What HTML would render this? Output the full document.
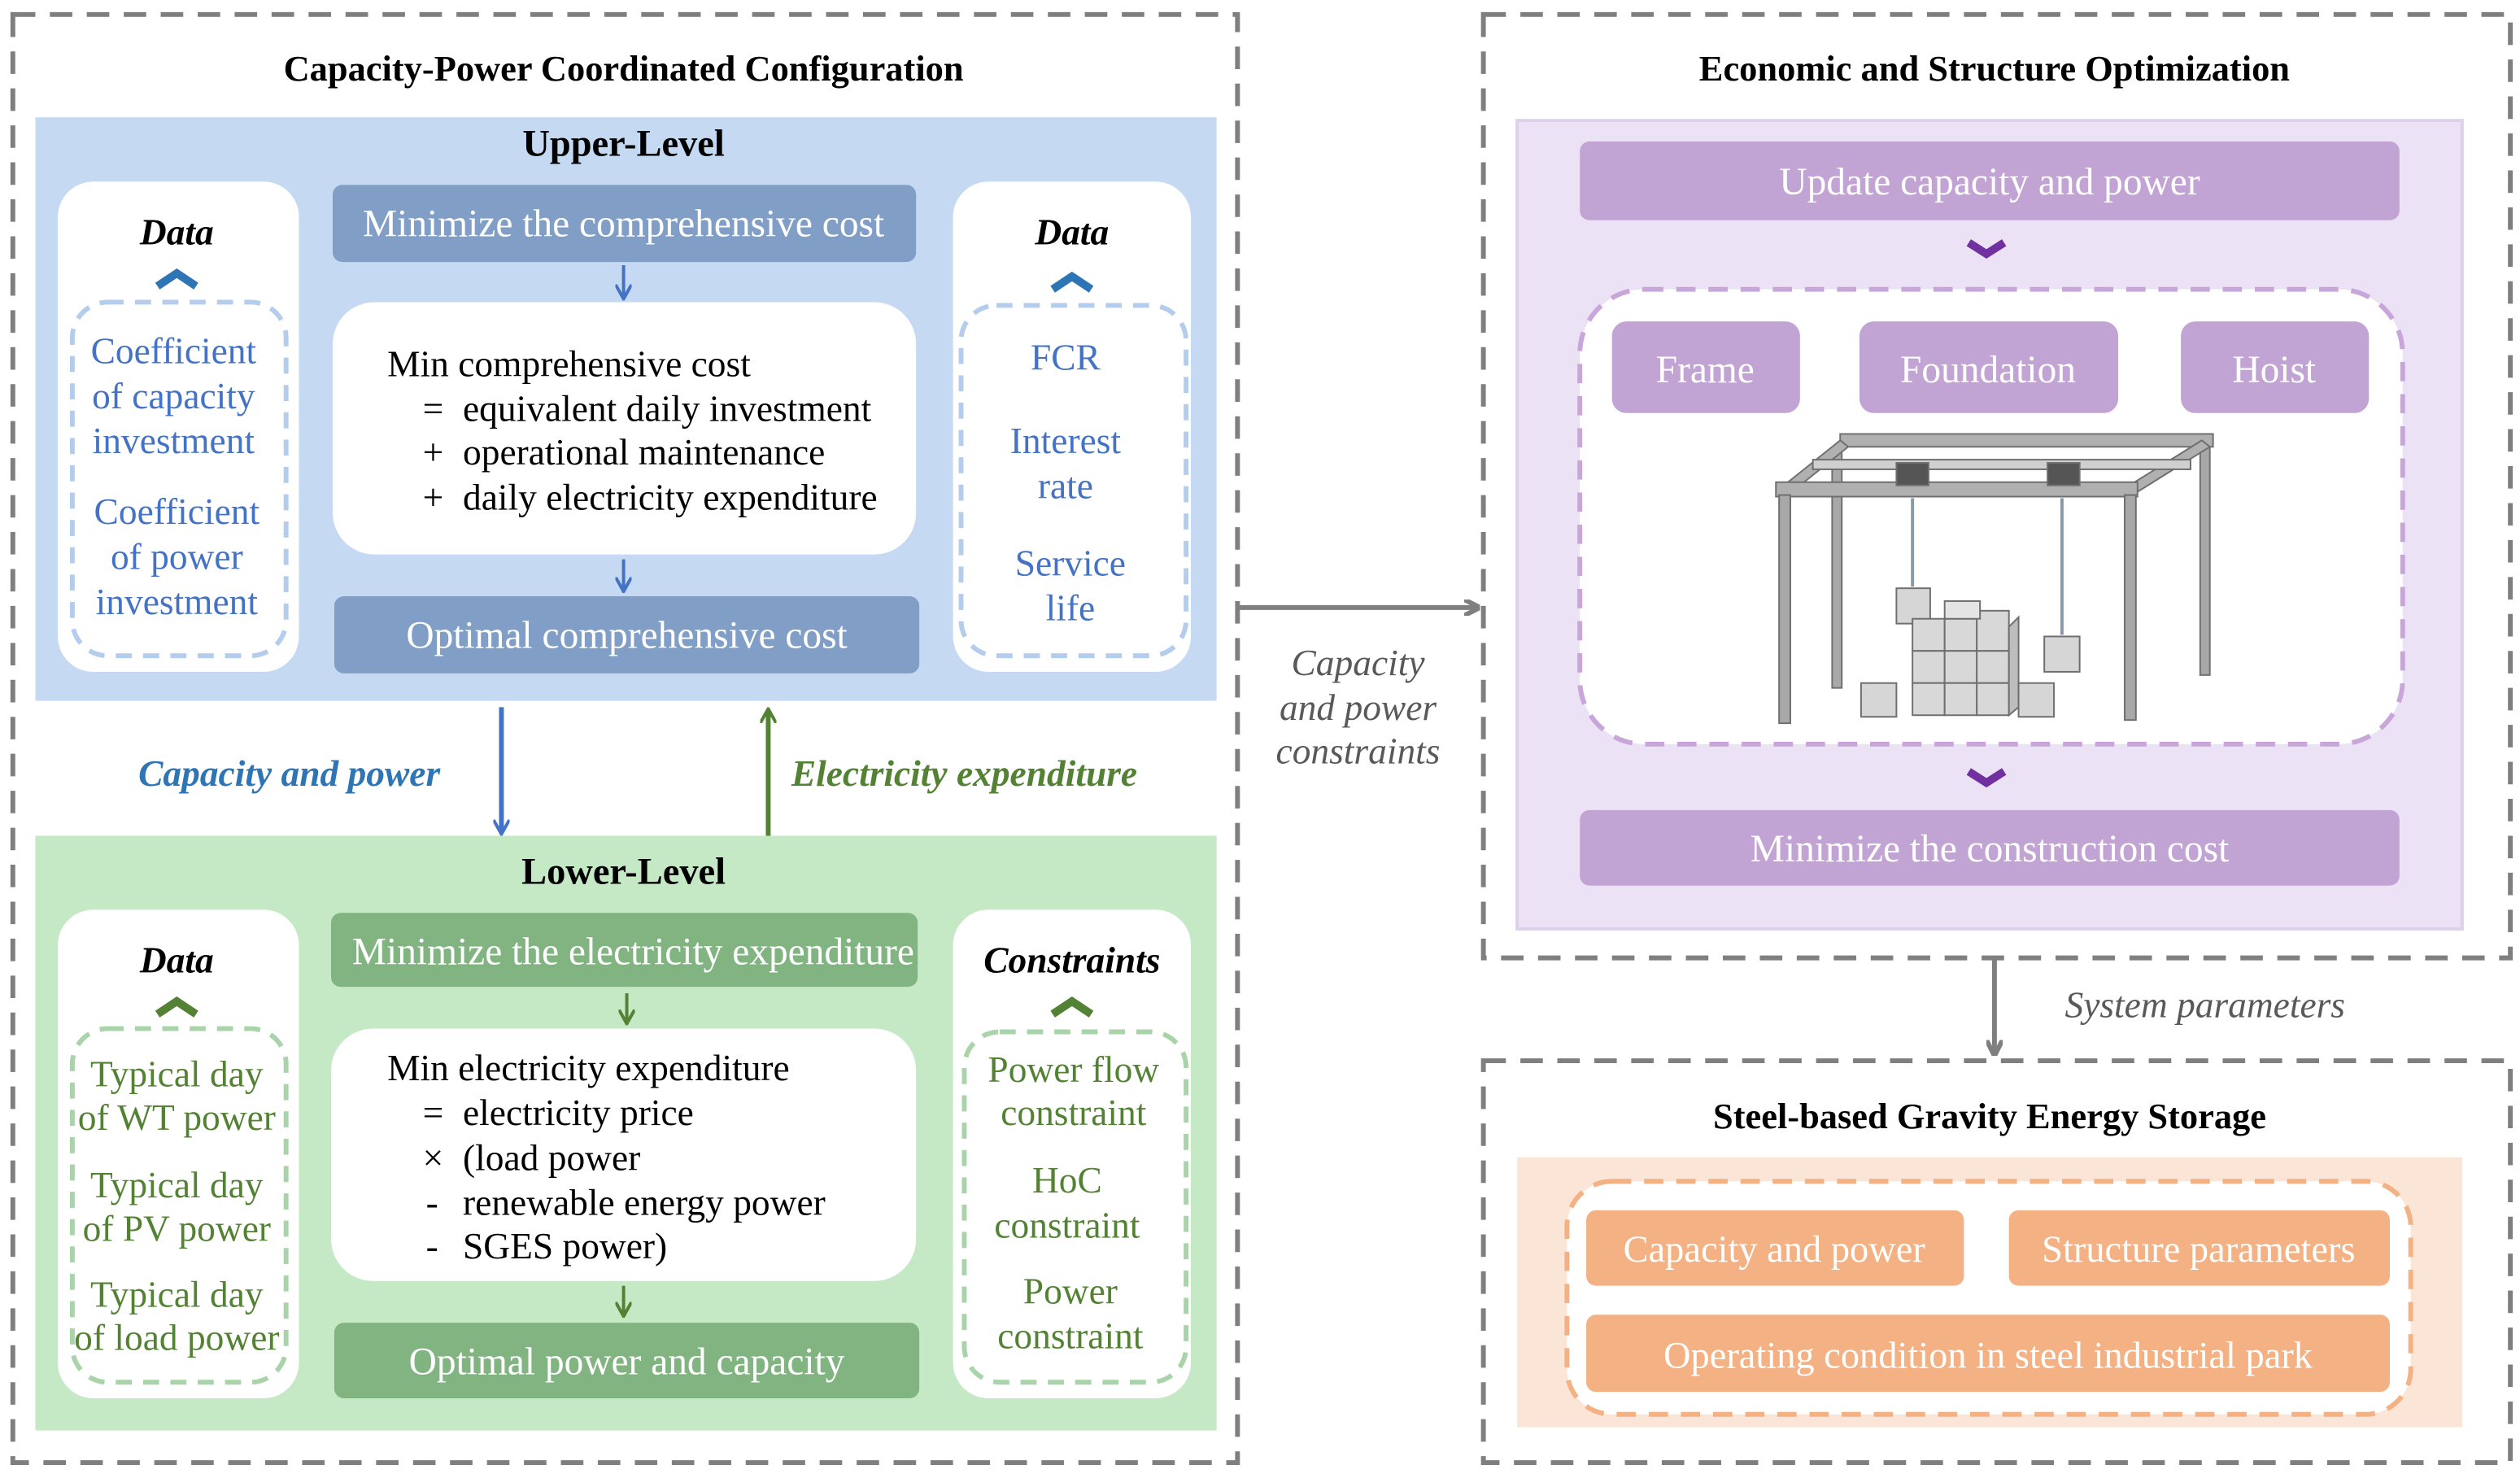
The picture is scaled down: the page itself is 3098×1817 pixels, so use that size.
<!DOCTYPE html>
<html><head><meta charset="utf-8"><style>
html,body{margin:0;padding:0;background:#fff}
svg{display:block}
text{font-family:"Liberation Serif",serif}
</style></head><body>
<svg width="3098" height="1817" viewBox="0 0 1568 919.6" preserveAspectRatio="none" xmlns="http://www.w3.org/2000/svg">
<defs>
<marker id="ag" markerWidth="10" markerHeight="10" refX="9" refY="5" orient="auto" markerUnits="userSpaceOnUse"><path d="M0,0 L10,5 L0,10" fill="none" stroke="#7f7f7f" stroke-width="3"/></marker>
<marker id="ab" markerWidth="10" markerHeight="10" refX="8" refY="5" orient="auto" markerUnits="userSpaceOnUse"><path d="M0,0 L9,5 L0,10" fill="none" stroke="#4472c4" stroke-width="2"/></marker>
<marker id="agr" markerWidth="10" markerHeight="10" refX="8" refY="5" orient="auto" markerUnits="userSpaceOnUse"><path d="M0,0 L9,5 L0,10" fill="none" stroke="#548235" stroke-width="2"/></marker>
</defs>
<g fill="none" stroke="#7f7f7f" stroke-width="3" stroke-dasharray="14,9">
<rect x="8" y="9" width="762" height="901"/>
<rect x="923" y="9" width="639" height="587"/>
<rect x="923" y="660" width="639" height="250"/>
</g>
<g font-weight="bold" font-size="22.5" text-anchor="middle" fill="#000">
<text x="388" y="50">Capacity-Power Coordinated Configuration</text>
<text x="1241" y="50">Economic and  Structure  Optimization</text>
<text x="1238" y="702">Steel-based Gravity Energy Storage</text>
</g>

<rect x="22" y="73" width="735" height="363" fill="#c5daf2"/>
<text x="388" y="97" font-weight="bold" font-size="23.5" text-anchor="middle">Upper-Level</text>
<rect x="36" y="113" width="150" height="305" rx="22" fill="#fff"/>
<rect x="593" y="113" width="148" height="305" rx="22" fill="#fff"/>
<g fill="none" stroke="#b4cdec" stroke-width="3" stroke-dasharray="10,7">
<rect x="45" y="188" width="133" height="220" rx="22"/>
<rect x="598" y="190" width="140" height="218" rx="22"/>
</g>
<g font-weight="bold" font-style="italic" font-size="23" text-anchor="middle">
<text x="110" y="152">Data</text><text x="667" y="152">Data</text>
</g>
<g fill="none" stroke="#2e75b6" stroke-width="5"><path d="M98,178 L110,170 L122,178"/><path d="M655,180 L667,172 L679,180"/></g>
<g fill="#4472c4" font-size="23" text-anchor="middle">
<text x="108" y="226">Coefficient</text><text x="108" y="254">of capacity</text><text x="108" y="282">investment</text>
<text x="110" y="326">Coefficient</text><text x="110" y="354">of power</text><text x="110" y="382">investment</text>
<text x="663" y="230">FCR</text><text x="663" y="282">Interest</text><text x="663" y="310">rate</text>
<text x="666" y="358">Service</text><text x="666" y="386">life</text>
</g>
<rect x="207" y="115" width="363" height="48" rx="6" fill="#819fc6"/>
<text x="388" y="147" fill="#fff" font-size="24" text-anchor="middle">Minimize the comprehensive cost</text>
<line x1="388" y1="165" x2="388" y2="185" stroke="#4472c4" stroke-width="2" marker-end="url(#ab)"/>
<rect x="207" y="188" width="363" height="157" rx="26" fill="#fff"/>
<g font-size="23">
<text x="241" y="234">Min comprehensive cost</text>
<text x="263" y="262">=</text><text x="288" y="262">equivalent daily investment</text>
<text x="263" y="289">+</text><text x="288" y="289">operational maintenance</text>
<text x="263" y="317">+</text><text x="288" y="317">daily electricity expenditure</text>
</g>
<line x1="388" y1="348" x2="388" y2="367" stroke="#4472c4" stroke-width="2" marker-end="url(#ab)"/>
<rect x="208" y="371" width="364" height="48" rx="6" fill="#819fc6"/>
<text x="390" y="403" fill="#fff" font-size="24" text-anchor="middle">Optimal comprehensive cost</text>

<line x1="312" y1="440" x2="312" y2="518" stroke="#4472c4" stroke-width="3" marker-end="url(#ab)"/>
<line x1="478" y1="520" x2="478" y2="442" stroke="#548235" stroke-width="3" marker-end="url(#agr)"/>
<text x="180" y="489" fill="#2e75b6" font-size="23" font-weight="bold" font-style="italic" text-anchor="middle">Capacity and power</text>
<text x="600" y="489" fill="#548235" font-size="23" font-weight="bold" font-style="italic" text-anchor="middle">Electricity expenditure</text>

<rect x="22" y="520" width="735" height="370" fill="#c5e8c5"/>
<text x="388" y="550" font-weight="bold" font-size="23.5" text-anchor="middle">Lower-Level</text>
<rect x="36" y="566" width="150" height="304" rx="22" fill="#fff"/>
<rect x="593" y="566" width="148" height="304" rx="22" fill="#fff"/>
<g fill="none" stroke="#a9d3a9" stroke-width="3" stroke-dasharray="10,7">
<rect x="45" y="640" width="133" height="220" rx="22"/>
<rect x="600" y="642" width="138" height="218" rx="22"/>
</g>
<g font-weight="bold" font-style="italic" font-size="23" text-anchor="middle">
<text x="110" y="605">Data</text><text x="667" y="605">Constraints</text>
</g>
<g fill="none" stroke="#548235" stroke-width="5"><path d="M98,631 L110,623 L122,631"/><path d="M655,631 L667,623 L679,631"/></g>
<g fill="#548235" font-size="23" text-anchor="middle">
<text x="110" y="676">Typical day</text><text x="110" y="703">of WT power</text>
<text x="110" y="745">Typical day</text><text x="110" y="772">of PV power</text>
<text x="110" y="813">Typical day</text><text x="110" y="840">of load power</text>
<text x="668" y="673">Power flow</text><text x="668" y="700">constraint</text>
<text x="664" y="742">HoC</text><text x="664" y="770">constraint</text>
<text x="666" y="811">Power</text><text x="666" y="839">constraint</text>
</g>
<rect x="206" y="568" width="365" height="46" rx="6" fill="#82b482"/>
<text x="394" y="600" fill="#fff" font-size="24" text-anchor="middle">Minimize the electricity expenditure</text>
<line x1="390" y1="618" x2="390" y2="636" stroke="#548235" stroke-width="2" marker-end="url(#agr)"/>
<rect x="206" y="640" width="364" height="157" rx="26" fill="#fff"/>
<g font-size="23">
<text x="241" y="672">Min electricity expenditure</text>
<text x="263" y="700">=</text><text x="288" y="700">electricity price</text>
<text x="263" y="728">×</text><text x="288" y="728">(load power</text>
<text x="265" y="756">-</text><text x="288" y="756">renewable energy power</text>
<text x="265" y="783">-</text><text x="288" y="783">SGES power)</text>
</g>
<line x1="388" y1="800" x2="388" y2="818" stroke="#548235" stroke-width="2" marker-end="url(#agr)"/>
<rect x="208" y="823" width="364" height="47" rx="6" fill="#82b482"/>
<text x="390" y="855" fill="#fff" font-size="24" text-anchor="middle">Optimal power and capacity</text>

<line x1="770" y1="378" x2="920" y2="378" stroke="#7f7f7f" stroke-width="3" marker-end="url(#ag)"/>
<g fill="#595959" font-size="23" font-style="italic" text-anchor="middle">
<text x="845" y="420">Capacity</text><text x="845" y="448">and power</text><text x="845" y="475">constraints</text>
</g>

<rect x="944" y="75" width="588" height="503" fill="#ece2f5" stroke="#ddd0ea" stroke-width="2"/>
<rect x="983" y="88" width="510" height="49" rx="6" fill="#c2a4d4"/>
<text x="1238" y="121" fill="#fff" font-size="24" text-anchor="middle">Update capacity and  power</text>
<path d="M1225,151 L1236,158 L1247,151" fill="none" stroke="#7030a0" stroke-width="5"/>
<rect x="983" y="180" width="512" height="283" rx="40" fill="#fff" stroke="#c8a6d9" stroke-width="3" stroke-dasharray="12,8"/>
<rect x="1003" y="200" width="117" height="57" rx="9" fill="#c2a4d4"/>
<rect x="1157" y="200" width="161" height="57" rx="9" fill="#c2a4d4"/>
<rect x="1357" y="200" width="117" height="57" rx="9" fill="#c2a4d4"/>
<g fill="#fff" font-size="24" text-anchor="middle">
<text x="1061" y="238">Frame</text><text x="1237" y="238">Foundation</text><text x="1415" y="238">Hoist</text>
</g>
<g stroke="#6f6f6f" stroke-width="1">
<rect x="1140" y="280" width="6" height="148" fill="#a8a8a8"/>
<rect x="1369" y="275" width="6" height="145" fill="#a8a8a8"/>
<rect x="1145" y="270" width="232" height="8" fill="#b0b0b0"/>
<path d="M1110,302 L1145,274 L1150,278 L1115,306 Z" fill="#b0b0b0"/>
<path d="M1325,302 L1370,274 L1375,278 L1330,306 Z" fill="#b0b0b0"/>
<rect x="1128" y="286" width="235" height="6" fill="#d0d0d0"/>
<rect x="1105" y="300" width="225" height="9" fill="#b0b0b0"/>
<rect x="1107" y="308" width="7" height="142" fill="#a8a8a8"/>
<rect x="1322" y="308" width="7" height="140" fill="#a8a8a8"/>
<rect x="1180" y="288" width="20" height="14" fill="#555"/>
<rect x="1274" y="288" width="20" height="14" fill="#555"/>
<line x1="1190" y1="310" x2="1190" y2="365" stroke="#8899aa" stroke-width="2"/>
<line x1="1283" y1="310" x2="1283" y2="395" stroke="#8899aa" stroke-width="2"/>
<rect x="1180" y="366" width="21" height="22" fill="#d6d6d6"/>
<rect x="1272" y="396" width="22" height="22" fill="#d6d6d6"/>
<rect x="1190" y="385" width="20" height="20" fill="#d8d8d8"/><rect x="1210" y="385" width="20" height="20" fill="#d8d8d8"/><rect x="1230" y="380" width="20" height="25" fill="#d8d8d8"/>
<rect x="1190" y="405" width="20" height="20" fill="#d8d8d8"/><rect x="1210" y="405" width="20" height="20" fill="#d8d8d8"/><rect x="1230" y="405" width="20" height="20" fill="#d8d8d8"/>
<rect x="1190" y="425" width="20" height="20" fill="#d8d8d8"/><rect x="1210" y="425" width="20" height="20" fill="#d8d8d8"/><rect x="1230" y="425" width="20" height="20" fill="#d8d8d8"/>
<rect x="1210" y="374" width="22" height="11" fill="#e4e4e4"/>
<path d="M1250,390 L1256,384 L1256,440 L1250,445 Z" fill="#bdbdbd"/>
<rect x="1158" y="425" width="22" height="21" fill="#d6d6d6"/>
<rect x="1256" y="425" width="22" height="21" fill="#d6d6d6"/>
</g>
<path d="M1225,480 L1236,487 L1247,480" fill="none" stroke="#7030a0" stroke-width="5"/>
<rect x="983" y="504" width="510" height="47" rx="6" fill="#c2a4d4"/>
<text x="1238" y="536" fill="#fff" font-size="24" text-anchor="middle">Minimize the construction cost</text>

<line x1="1241" y1="597" x2="1241" y2="656" stroke="#7f7f7f" stroke-width="3" marker-end="url(#ag)"/>
<text x="1372" y="633" fill="#595959" font-size="23" font-style="italic" text-anchor="middle">System parameters</text>

<rect x="944" y="720" width="588" height="168" fill="#fbe5d6"/>
<rect x="975" y="735" width="525" height="145" rx="28" fill="#fff" stroke="#f4b183" stroke-width="3" stroke-dasharray="12,8"/>
<rect x="987" y="753" width="235" height="47" rx="6" fill="#f4b183"/>
<rect x="1250" y="753" width="237" height="47" rx="6" fill="#f4b183"/>
<rect x="987" y="818" width="500" height="48" rx="6" fill="#f4b183"/>
<g fill="#fff" font-size="23.5" text-anchor="middle">
<text x="1104" y="785">Capacity and power</text>
<text x="1368" y="785">Structure parameters</text>
<text x="1237" y="851">Operating condition in steel industrial park</text>
</g>
</svg>
</body></html>
